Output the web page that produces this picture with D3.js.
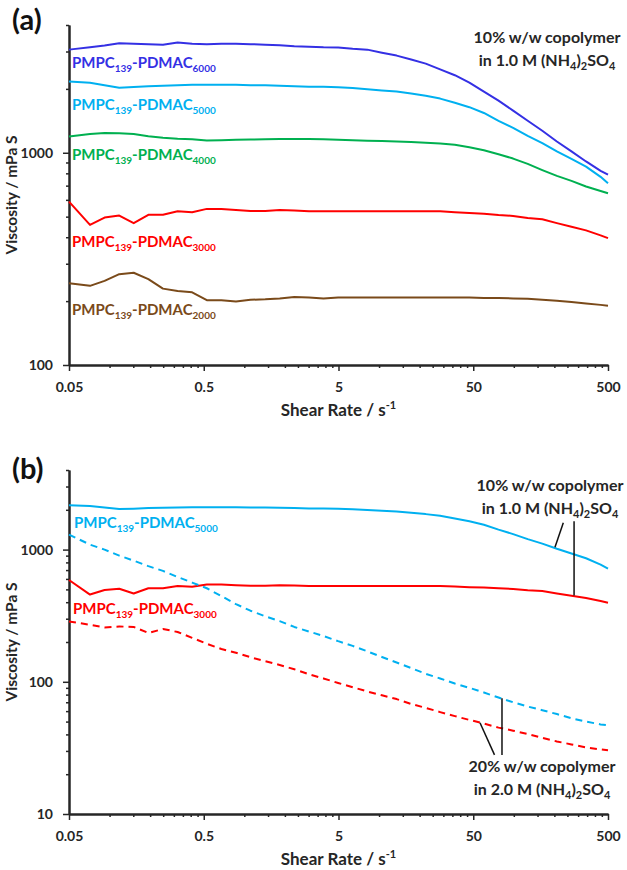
<!DOCTYPE html>
<html><head><meta charset="utf-8">
<script src="https://cdn.jsdelivr.net/npm/d3@7"></script>
<style>
body{margin:0;background:#fff;}
svg{display:block;font-family:Lato,"Open Sans",sans-serif;font-weight:bold;}
</style></head><body>
<svg id="chart" width="627" height="870"></svg>
<script>
// ---- data (shear rate in s^-1, viscosity in mPa s) ----
const shearRate = [0.05, 0.0716, 0.0918, 0.118, 0.151, 0.194, 0.249, 0.320, 0.410, 0.527,
  0.676, 0.867, 1.11, 1.43, 1.83, 2.35, 3.02, 3.87, 4.97, 6.37,
  8.18, 10.5, 13.5, 17.3, 22.2, 28.4, 36.5, 46.8, 60.0, 77.0,
  98.8, 126.8, 162.7, 208.7, 267.8, 343.5, 440.7, 500];
const visc6000 = [3062, 3140, 3200, 3280, 3268, 3250, 3231, 3310, 3268, 3250,
  3268, 3268, 3250, 3231, 3210, 3180, 3162, 3140, 3130, 3090,
  3062, 2960, 2870, 2750, 2630, 2470, 2320, 2140, 1940, 1760,
  1580, 1415, 1270, 1130, 1015, 910, 822, 788];
const visc5000 = [2169, 2138, 2080, 2025, 2040, 2060, 2070, 2080, 2094, 2094,
  2094, 2094, 2080, 2080, 2070, 2060, 2049, 2045, 2035, 2019,
  1990, 1965, 1945, 1900, 1855, 1800, 1720, 1640, 1540, 1415,
  1310, 1200, 1110, 1015, 935, 860, 770, 719];
const visc4000 = [1194, 1225, 1239, 1237, 1225, 1197, 1177, 1165, 1158, 1143,
  1146, 1152, 1155, 1158, 1161, 1161, 1161, 1158, 1152, 1146,
  1140, 1135, 1131, 1124, 1114, 1105, 1090, 1062, 1028, 984,
  939, 887, 829, 778, 737, 694, 661, 645];
const visc3000 = [589, 457, 495, 506, 466, 510, 510, 530, 524, 544,
  544, 538, 532, 532, 538, 535, 530, 530, 530, 530,
  530, 530, 530, 530, 530, 530, 525, 520, 516, 509,
  504, 493, 486, 466, 448, 431, 408, 396];
const visc2000 = [243, 236, 249, 268, 272, 254, 229, 223, 220, 202,
  202, 199, 203, 204, 206, 209, 208, 206, 208, 208,
  208, 208, 208, 208, 208, 208, 208, 208, 207, 207,
  206, 205, 203, 201, 198, 195, 192, 190];
// 20% w/w copolymer in 2.0 M (NH4)2SO4
const visc5000_20 = [1300, 1090, 1000, 900, 825, 750, 690, 620, 563, 510,
  445, 387, 345, 313, 288, 260, 240, 222, 203, 187,
  170, 154, 140, 127, 115, 106, 97, 90, 83, 76,
  70, 65, 61, 57, 53, 50, 47.6, 47];
const visc3000_20 = [286, 270, 258, 262, 260, 234, 251, 238, 215, 194,
  177, 166, 153.5, 143, 134, 124.5, 114, 106, 98, 91,
  84.5, 79, 74, 68, 63.5, 59, 55, 51.5, 48.3, 45,
  42.7, 40.3, 37.7, 35.4, 33.6, 31.9, 30.8, 30.3];

const xTickValues = [0.05, 0.5, 5, 50, 500];
const xTickLabels = ["0.05", "0.5", "5", "50", "500"];
const yTickValuesA = [100, 1000];
const yTickLabelsA = ["100", "1000"];
const yTickValuesB = [10, 100, 1000];
const yTickLabelsB = ["10", "100", "1000"];

// leader lines panel (b): [shear, viscosity] pairs
const leader10 = [[[233, 1593], [202, 1040]], [[280, 1640], [280, 450]]];
const leader20 = [[[56.1, 49], [71.9, 28]], [[81.7, 75], [81.7, 28]]];

// ---- drawing ----
const COL = {b6000:"#3430e4", b5000:"#00b0f0", g4000:"#00b050", r3000:"#ff0000", br2000:"#7a4a1a", ink:"#262626"};
const svg = d3.select("#chart");
const x = d3.scaleLog().domain([0.05, 500]).range([69, 608]);

function minorVals(lo, hi, decStarts) {
  const out = [];
  decStarts.forEach(d => { for (let k = 2; k <= 9; k++) { const v = d * k; if (v > lo && v <= hi * 1.0001) out.push(v); } });
  return out;
}

function styleAxis(g) {
  g.select(".domain").attr("stroke", COL.ink).attr("stroke-width", 2);
  g.selectAll(".tick line").attr("stroke", COL.ink).attr("stroke-width", 1.5);
  g.selectAll(".tick text").attr("fill", COL.ink).attr("font-size", 14).attr("font-weight", "bold").attr("font-family", "Lato, sans-serif");
}

function drawPanel(y, yTicks, yLabels) {
  const g = svg.append("g");
  const y0 = y.range()[0];
  const xMinor = minorVals(0.05, 500, [0.05, 0.5, 5, 50]);
  const yMinor = minorVals(y.domain()[0], y.domain()[1], [10, 100, 1000]);
  g.append("g").attr("transform", `translate(0,${y0})`)
    .call(d3.axisBottom(x).tickValues(xMinor).tickFormat("").tickSize(3).tickSizeOuter(0)).call(styleAxis);
  g.append("g").attr("transform", `translate(0,${y0})`)
    .call(d3.axisBottom(x).tickValues(xTickValues).tickFormat((d, i) => xTickLabels[i]).tickSize(6).tickPadding(11).tickSizeOuter(0)).call(styleAxis);
  g.append("g").attr("transform", `translate(69,0)`)
    .call(d3.axisLeft(y).tickValues(yMinor).tickFormat("").tickSize(3).tickSizeOuter(0)).call(styleAxis);
  g.append("g").attr("transform", `translate(69,0)`)
    .call(d3.axisLeft(y).tickValues(yTicks).tickFormat((d, i) => yLabels[i]).tickSize(6).tickPadding(10).tickSizeOuter(0)).call(styleAxis);
  // axis titles
  const yc = (y.range()[0] + y.range()[1]) / 2;
  g.append("text").attr("transform", `translate(17,${yc}) rotate(-90)`).attr("text-anchor", "middle")
    .attr("font-size", 15.5).attr("fill", COL.ink).text("Viscosity / mPa S");
  const t = g.append("text").attr("x", 338.5).attr("y", y0 + 51).attr("text-anchor", "middle").attr("font-size", 17).attr("fill", COL.ink);
  t.append("tspan").text("Shear Rate / s");
  t.append("tspan").attr("font-size", 11).attr("dy", -7).text("-1");
  return g;
}

function drawLine(g, y, vals, color, dashed) {
  const line = d3.line().x((d, i) => x(shearRate[i])).y(d => y(d));
  g.append("path").datum(vals).attr("d", line).attr("fill", "none").attr("stroke", color)
    .attr("stroke-width", 2).attr("stroke-linejoin", "round")
    .attr("stroke-dasharray", dashed ? "7,5" : null);
}

function seriesLabel(g, px, py, n, color) {
  const t = g.append("text").attr("x", px).attr("y", py).attr("font-size", 15).attr("fill", color);
  t.append("tspan").text("PMPC");
  t.append("tspan").attr("font-size", 10).attr("dy", 4).text("139");
  t.append("tspan").attr("dy", -4).text("-PDMAC");
  t.append("tspan").attr("font-size", 10).attr("dy", 4).text(n);
}

function note(g, cx, by, pct, molar) {
  g.append("text").attr("x", cx).attr("y", by).attr("text-anchor", "middle").attr("font-size", 16)
    .attr("fill", COL.ink).text(pct + " w/w copolymer");
  const t = g.append("text").attr("x", cx).attr("y", by + 22.5).attr("text-anchor", "middle").attr("font-size", 16).attr("fill", COL.ink);
  t.append("tspan").text("in " + molar + " M (NH");
  t.append("tspan").attr("font-size", 11).attr("dy", 4).text("4");
  t.append("tspan").attr("dy", -4).text(")");
  t.append("tspan").attr("font-size", 11).attr("dy", 4).text("2");
  t.append("tspan").attr("dy", -4).text("SO");
  t.append("tspan").attr("font-size", 11).attr("dy", 4).text("4");
}

// Panel (a)
const yA = d3.scaleLog().domain([100, 4000]).range([365, 25]);
const gA = drawPanel(yA, yTickValuesA, yTickLabelsA);
drawLine(gA, yA, visc6000, COL.b6000);
drawLine(gA, yA, visc5000, COL.b5000);
drawLine(gA, yA, visc4000, COL.g4000);
drawLine(gA, yA, visc3000, COL.r3000);
drawLine(gA, yA, visc2000, COL.br2000);
seriesLabel(gA, 72, 67.5, "6000", COL.b6000);
seriesLabel(gA, 72, 109.5, "5000", COL.b5000);
seriesLabel(gA, 72, 159.5, "4000", COL.g4000);
seriesLabel(gA, 72, 246.5, "3000", COL.r3000);
seriesLabel(gA, 72, 315, "2000", COL.br2000);
note(gA, 547, 43, "10%", "1.0");
gA.append("text").attr("x", 12).attr("y", 30).attr("font-size", 29).attr("fill", "#111").text("(a)");

// Panel (b)
const yB = d3.scaleLog().domain([10, 4000]).range([814, 470]);
const gB = drawPanel(yB, yTickValuesB, yTickLabelsB);
drawLine(gB, yB, visc5000, COL.b5000);
drawLine(gB, yB, visc3000, COL.r3000);
drawLine(gB, yB, visc5000_20, COL.b5000, true);
drawLine(gB, yB, visc3000_20, COL.r3000, true);
seriesLabel(gB, 74, 527.5, "5000", COL.b5000);
seriesLabel(gB, 73, 613.5, "3000", COL.r3000);
note(gB, 550, 491, "10%", "1.0");
note(gB, 542, 772, "20%", "2.0");
[...leader10, ...leader20].forEach(seg => {
  gB.append("line").attr("x1", x(seg[0][0])).attr("y1", yB(seg[0][1]))
    .attr("x2", x(seg[1][0])).attr("y2", yB(seg[1][1])).attr("stroke", "#111").attr("stroke-width", 1.5);
});
gB.append("text").attr("x", 12).attr("y", 479).attr("font-size", 29).attr("fill", "#111").text("(b)");
</script>
</body></html>
